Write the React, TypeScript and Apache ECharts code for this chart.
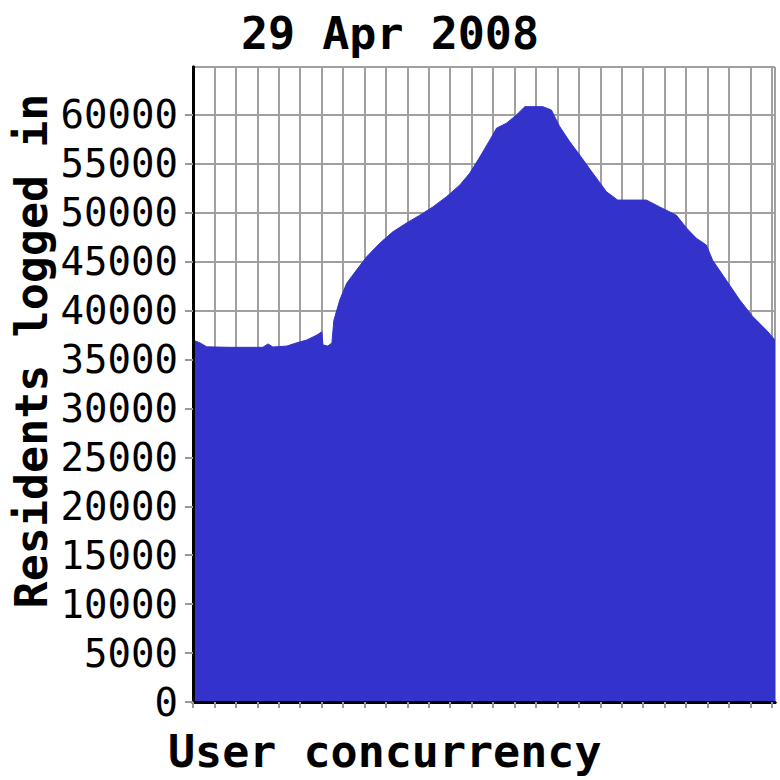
import { useEffect, useRef } from 'react';
import * as echarts from 'echarts';

const TITLE = '29 Apr 2008';
const Y_NAME = 'Residents logged in';
const X_NAME = 'User concurrency';

// x position in tick units
const hours = [
  0, 0.33, 0.64, 1.72, 3.26, 3.5, 3.73, 4.38, 4.85, 5.31, 5.78, 6.01, 6.06, 6.29,
  6.48, 6.57, 6.85, 7.17, 7.63, 8.1, 8.72, 9.32, 9.96, 10.58, 11.19, 11.83, 12.45,
  12.91, 13.38, 13.85, 14.16, 14.62, 15.09, 15.48, 16.32, 16.72, 17.11, 17.58,
  18.04, 18.65, 19.29, 19.81, 21.15, 21.77, 22.55, 23.02, 23.48, 23.95, 24.24,
  24.88, 25.5, 26.11, 26.75, 27.15,
];

const residents = [
  37000, 36700, 36300, 36250, 36250, 36600, 36280, 36380, 36720, 37000, 37500,
  37840, 36500, 36380, 36700, 39000, 41100, 42800, 44150, 45500, 46900, 48050,
  48950, 49750, 50600, 51650, 52850, 54050, 55700, 57450, 58650, 59150, 60000,
  60850, 60850, 60500, 58800, 57250, 55900, 54050, 52150, 51300, 51300, 50600,
  49750, 48450, 47400, 46700, 45150, 43100, 41100, 39400, 38000, 37000,
];

const yTicks = [0, 5000, 10000, 15000, 20000, 25000, 30000, 35000, 40000, 45000, 50000, 55000, 60000];
const xTicks = Array.from({ length: 28 }, (_, i) => i);

const X_MAX = 27.15;
const Y_MAX = 64900;
const FONT = 'DejaVu Sans Mono';

export default function App() {
  const chartRef = useRef<HTMLDivElement>(null);

  useEffect(() => {
    if (!chartRef.current) return;
    const chart = echarts.init(chartRef.current, undefined, { renderer: 'svg' });

    const xBase = { type: 'value' as const, min: 0, max: X_MAX, interval: 1 };
    const yBase = { type: 'value' as const, min: 0, max: Y_MAX, interval: 5000 };
    const blackLine = { show: true, lineStyle: { color: '#000', width: 3 } };
    const off = { show: false };

    const option: echarts.EChartsOption = {
      animation: false,
      backgroundColor: '#fff',
      title: {
        text: TITLE,
        left: 'center',
        top: 6,
        textStyle: { fontFamily: FONT, fontSize: 45, fontWeight: 'bold', color: '#000' },
      },
      grid: {
        left: 193,
        right: 5,
        top: 67,
        bottom: 78,
        show: true,
        backgroundColor: '#fff',
        borderWidth: 0,
      },
      xAxis: [
        {
          // bottom axis line and ticks, above the area
          ...xBase,
          position: 'bottom',
          z: 5,
          axisLine: blackLine,
          axisTick: {
            show: true,
            length: 6,
            customValues: xTicks,
            lineStyle: { color: '#999', width: 2 },
          },
          axisLabel: off,
          splitLine: off,
        },
        {
          // top border
          ...xBase,
          position: 'top',
          z: 5,
          axisLine: blackLine,
          axisTick: off,
          axisLabel: off,
          splitLine: off,
        },
        {
          // vertical grid lines under the area
          ...xBase,
          position: 'bottom',
          z: 0,
          axisLine: off,
          axisTick: off,
          axisLabel: off,
          splitLine: { show: true, lineStyle: { color: '#a0a0a0', width: 2 } },
        },
      ],
      yAxis: [
        {
          ...yBase,
          position: 'left',
          z: 5,
          axisLine: blackLine,
          axisTick: {
            show: true,
            length: 8,
            customValues: yTicks,
            lineStyle: { color: '#999', width: 2 },
          },
          axisLabel: {
            margin: 15,
            customValues: yTicks,
            formatter: (v: number) => String(v),
            fontFamily: FONT,
            fontSize: 39,
            color: '#000',
          },
          splitLine: off,
        },
        {
          // right border
          ...yBase,
          position: 'right',
          z: 5,
          axisLine: blackLine,
          axisTick: off,
          axisLabel: off,
          splitLine: off,
        },
        {
          // horizontal grid lines under the area
          ...yBase,
          position: 'left',
          z: 0,
          axisLine: off,
          axisTick: off,
          axisLabel: off,
          splitLine: { show: true, lineStyle: { color: '#a0a0a0', width: 2 } },
        },
      ],
      graphic: [
        {
          type: 'text',
          x: 31,
          y: 351,
          rotation: Math.PI / 2,
          style: {
            text: Y_NAME,
            fontFamily: FONT,
            fontSize: 45,
            fontWeight: 'bold',
            fill: '#000',
            align: 'center',
            verticalAlign: 'middle',
          },
        },
        {
          type: 'text',
          x: 168,
          y: 751,
          style: {
            text: X_NAME,
            fontFamily: FONT,
            fontSize: 45,
            fontWeight: 'bold',
            fill: '#000',
            align: 'left',
            verticalAlign: 'middle',
          },
        },
      ],
      series: [
        {
          type: 'line',
          xAxisIndex: 0,
          yAxisIndex: 0,
          data: hours.map((h, i) => [h, residents[i]]),
          showSymbol: false,
          z: 2,
          lineStyle: { color: '#3333cc', width: 1 },
          areaStyle: { color: '#3333cc', opacity: 1 },
        },
      ],
    };

    chart.setOption(option);

    return () => {
      chart.dispose();
    };
  }, []);

  return (
    <div
      ref={chartRef}
      style={{ position: 'fixed', left: 0, top: 0, width: '780px', height: '780px' }}
    />
  );
}
